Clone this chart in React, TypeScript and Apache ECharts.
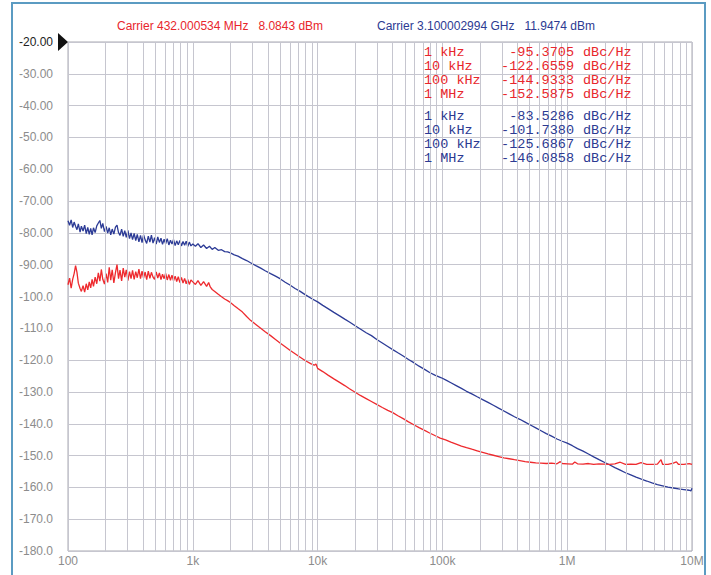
import React, { useEffect, useRef } from "react";
import * as echarts from "echarts";

// ---------- data ----------
const carrierTexts = [
  { text: "Carrier 432.000534 MHz   8.0843 dBm", color: "#e8262c" },
  { text: "Carrier 3.100002994 GHz   11.9474 dBm", color: "#2c3a92" },
];

const redMarkers: [string, string][] = [
  ["1 kHz", "-95.3705"],
  ["10 kHz", "-122.6559"],
  ["100 kHz", "-144.9333"],
  ["1 MHz", "-152.5875"],
];
const blueMarkers: [string, string][] = [
  ["1 kHz", "-83.5286"],
  ["10 kHz", "-101.7380"],
  ["100 kHz", "-125.6867"],
  ["1 MHz", "-146.0858"],
];

const xTickLabels = ["100", "1k", "10k", "100k", "1M", "10M"];

const redTrace: [number, number][] = [
  [100, -96.3], [103, -94.2], [106, -97.4], [109, -94.6], [112, -92.8], [115, -90.3], [118, -92.4], [121, -95.8],
  [125, -97.5], [128, -98.4], [132, -96.6], [136, -98.6], [140, -96.0], [144, -97.9], [148, -95.4], [152, -97.3],
  [156, -94.6], [160, -96.8], [165, -93.9], [170, -96.0], [175, -92.6], [180, -95.2], [185, -91.5], [190, -94.6],
  [196, -96.1], [202, -92.8], [208, -95.6], [214, -90.8], [220, -94.9], [226, -91.6], [233, -95.7], [240, -92.5],
  [247, -90.0], [254, -94.4], [261, -91.7], [269, -95.1], [277, -91.1], [285, -93.9], [293, -91.6], [302, -95.0],
  [311, -92.2], [320, -94.4], [329, -91.8], [339, -94.6], [349, -92.2], [359, -94.1], [370, -91.4], [381, -94.4],
  [392, -92.0], [403, -94.2], [415, -92.3], [427, -94.7], [440, -92.0], [453, -94.3], [466, -92.4], [480, -93.9],
  [494, -94.6], [509, -92.3], [524, -94.2], [540, -92.6], [556, -94.7], [572, -93.0], [589, -94.4], [606, -92.7],
  [624, -94.8], [643, -93.1], [662, -94.9], [681, -93.3], [701, -95.1], [722, -93.6], [743, -95.3], [765, -93.8],
  [788, -95.6], [811, -94.0], [835, -95.8], [860, -94.3], [885, -96.0], [911, -94.6], [938, -96.2], [966, -94.8],
  [1000, -95.4], [1050, -96.2], [1100, -95.0], [1160, -96.5], [1220, -95.3], [1290, -96.8], [1340, -95.6],
  [1380, -97.0], [1430, -97.8], [1500, -98.4], [1600, -99.3], [1700, -100.1], [1800, -100.8], [1900, -101.3],
  [2000, -101.9], [2150, -102.9], [2300, -103.8], [2500, -104.9], [2700, -106.3], [2900, -107.5], [3200, -108.8],
  [3500, -110.0], [3800, -111.1], [4200, -112.3], [4600, -113.5], [5000, -114.6], [5500, -115.8], [6000, -116.9],
  [6600, -118.0], [7200, -119.0], [8000, -120.2], [8800, -121.1], [9400, -121.6], [9700, -121.2], [10000, -122.6],
  [11000, -123.6], [12200, -124.8], [13500, -125.9], [15000, -127.0], [16500, -128.0], [18000, -129.0],
  [20000, -130.1], [22000, -131.1], [24500, -132.1], [27000, -133.0], [30000, -134.0], [33000, -134.9],
  [36500, -135.8], [40000, -136.5], [44000, -137.5], [48500, -138.4], [53500, -139.4], [59000, -140.3],
  [65000, -141.2], [72000, -142.1], [79000, -142.9], [87000, -143.7], [96000, -144.5], [106000, -145.1],
  [117000, -145.8], [129000, -146.4], [142000, -147.0], [156000, -147.5], [172000, -148.0], [190000, -148.5],
  [210000, -149.0], [232000, -149.5], [256000, -149.9], [282000, -150.3], [311000, -150.7], [343000, -151.0],
  [378000, -151.3], [417000, -151.6], [460000, -151.9], [507000, -152.1], [560000, -152.3], [617000, -152.4],
  [680000, -152.5], [750000, -152.4], [828000, -152.6], [880000, -151.9], [913000, -152.5], [1000000, -152.6],
  [1100000, -152.7], [1150000, -152.0], [1210000, -152.6], [1340000, -152.7], [1480000, -152.5],
  [1630000, -152.8], [1800000, -152.6], [1980000, -152.7], [2180000, -152.8], [2410000, -152.6],
  [2660000, -152.1], [2930000, -152.8], [3230000, -152.7], [3560000, -152.8], [3900000, -152.2],
  [4340000, -152.8], [4780000, -152.8], [5280000, -152.7], [5650000, -151.3], [5820000, -152.8],
  [6420000, -152.8], [7080000, -152.4], [7500000, -152.0], [7810000, -152.8], [8610000, -152.8],
  [9500000, -152.5], [10000000, -152.8],
];

const blueTrace: [number, number][] = [
  [100, -76.2], [103, -77.6], [106, -75.9], [109, -78.3], [112, -76.6], [115, -77.9], [118, -79.0], [121, -77.2],
  [125, -79.8], [128, -77.9], [132, -79.4], [136, -77.6], [140, -80.2], [144, -78.3], [148, -80.5], [152, -78.6],
  [156, -80.6], [160, -78.4], [165, -79.9], [170, -77.8], [175, -76.9], [180, -76.1], [185, -78.6], [190, -77.0],
  [196, -79.6], [202, -78.0], [208, -80.1], [214, -78.4], [220, -80.6], [226, -78.8], [233, -80.4], [240, -78.2],
  [247, -77.6], [254, -79.9], [261, -80.8], [269, -78.8], [277, -81.1], [285, -79.3], [293, -81.4], [302, -79.2],
  [311, -81.8], [320, -80.0], [329, -82.1], [339, -80.2], [349, -82.4], [359, -80.5], [370, -82.8], [381, -80.8],
  [392, -83.1], [403, -80.6], [415, -82.2], [427, -83.3], [440, -81.0], [453, -82.9], [466, -80.7], [480, -83.2],
  [494, -81.5], [509, -83.5], [524, -81.3], [540, -83.0], [556, -81.7], [572, -83.6], [589, -82.0], [606, -83.4],
  [624, -81.8], [643, -83.8], [662, -82.3], [681, -83.5], [701, -82.1], [722, -84.0], [743, -82.5], [765, -83.7],
  [788, -82.4], [811, -84.1], [835, -82.7], [860, -83.9], [885, -82.6], [911, -84.3], [938, -82.9], [966, -84.1],
  [1000, -83.5], [1050, -84.2], [1100, -83.4], [1160, -84.6], [1220, -83.8], [1290, -84.9], [1360, -84.2],
  [1430, -85.2], [1500, -84.6], [1600, -85.5], [1700, -85.3], [1800, -85.9], [1900, -86.0], [2000, -86.3],
  [2150, -86.9], [2300, -87.3], [2500, -88.1], [2700, -88.7], [2900, -89.4], [3200, -90.3], [3500, -91.1],
  [3800, -91.9], [4200, -92.8], [4600, -93.6], [5000, -94.4], [5500, -95.5], [6000, -96.4], [6600, -97.5],
  [7200, -98.3], [8000, -99.5], [9000, -100.7], [10000, -101.7], [11000, -102.8], [12200, -103.9],
  [13500, -105.0], [15000, -106.1], [16500, -107.1], [18000, -108.0], [20000, -109.2], [22000, -110.2],
  [24500, -111.4], [27000, -112.3], [30000, -113.6], [33000, -114.6], [36500, -115.7], [40000, -116.7],
  [44000, -117.7], [48500, -118.7], [53500, -119.8], [59000, -120.8], [65000, -121.9], [72000, -122.9],
  [79000, -123.9], [87000, -124.7], [96000, -125.4], [100000, -125.7], [106000, -126.2], [117000, -127.1],
  [129000, -128.0], [142000, -128.9], [156000, -129.8], [172000, -130.6], [190000, -131.5], [210000, -132.4],
  [232000, -133.3], [256000, -134.2], [282000, -135.1], [311000, -136.0], [343000, -136.9], [378000, -137.8],
  [417000, -138.6], [460000, -139.5], [507000, -140.4], [560000, -141.3], [617000, -142.2], [680000, -143.1],
  [750000, -143.9], [828000, -144.8], [913000, -145.5], [1000000, -146.1], [1100000, -146.9], [1210000, -147.8],
  [1340000, -148.6], [1480000, -149.5], [1630000, -150.4], [1800000, -151.3], [1980000, -152.1],
  [2180000, -152.9], [2410000, -153.8], [2660000, -154.6], [2930000, -155.4], [3230000, -156.1],
  [3560000, -156.8], [3930000, -157.4], [4340000, -158.0], [4780000, -158.6], [5280000, -159.1],
  [5820000, -159.5], [6420000, -159.9], [7080000, -160.2], [7810000, -160.5], [8610000, -160.7],
  [9500000, -160.9], [9800000, -161.1], [10000000, -160.3],
];

// ---------- styling constants ----------
const RED_LINE = "#ee2a2e";
const BLUE_LINE = "#2c3b96";
const GRID_COLOR = "#c6c6cf";
const G_LEFT = 68;
const G_TOP = 42;
const G_RIGHT = 19;
const G_BOTTOM = 24;

export default function App() {
  const ref = useRef<HTMLDivElement>(null);

  useEffect(() => {
    if (!ref.current) return;
    const chart = echarts.init(ref.current, undefined, { renderer: "svg" });

    const minorLines: { xAxis: number }[] = [];
    for (let d = 100; d < 1e7; d *= 10) {
      for (let k = 2; k <= 9; k++) minorLines.push({ xAxis: d * k });
    }

    const mono = '"Liberation Mono", "DejaVu Sans Mono", monospace';
    const graphics: any[] = [
      {
        type: "rect",
        shape: { x: 12, y: 3, width: 693, height: 640 },
        style: { fill: "none", stroke: "#5b9bc2", lineWidth: 2 },
        z: 0,
        silent: true,
      },
      {
        type: "polygon",
        shape: { points: [[G_LEFT - 10, G_TOP - 9], [G_LEFT, G_TOP], [G_LEFT - 10, G_TOP + 9]] },
        style: { fill: "#111" },
        z: 10,
      },
    ];
    const headerX = [117, 377];
    carrierTexts.forEach((c, i) => {
      graphics.push({
        type: "text",
        x: headerX[i],
        y: 26,
        style: {
          text: c.text,
          fill: c.color,
          fontSize: 12,
          fontFamily: '"Liberation Sans", Arial, sans-serif',
          textVerticalAlign: "middle",
          verticalAlign: "middle",
        },
        z: 10,
      });
    });
    const addTable = (rows: [string, string][], y0: number, color: string) => {
      rows.forEach((r, i) => {
        const y = y0 + i * 14.3;
        const base = { fill: color, fontSize: 13.5, fontFamily: mono, textVerticalAlign: "middle", verticalAlign: "middle" };
        graphics.push({ type: "text", x: 424, y, style: { ...base, text: r[0] }, z: 10 });
        graphics.push({
          type: "text", x: 574, y,
          style: { ...base, text: r[1], textAlign: "right", align: "right" }, z: 10,
        });
        graphics.push({ type: "text", x: 583, y, style: { ...base, text: "dBc/Hz" }, z: 10 });
      });
    };
    addTable(redMarkers, 52, "#e8262c");
    addTable(blueMarkers, 116, "#2c3a92");

    chart.setOption({
      animation: false,
      backgroundColor: "#ffffff",
      grid: {
        left: G_LEFT, top: G_TOP, right: G_RIGHT, bottom: G_BOTTOM,
        show: true, borderColor: "#a9a9b1", borderWidth: 1, backgroundColor: "transparent",
      },
      xAxis: {
        type: "log",
        logBase: 10,
        min: 100,
        max: 1e7,
        axisLine: { show: false },
        axisTick: { show: false },
        splitLine: { show: true, lineStyle: { color: GRID_COLOR, width: 1 } },
        axisLabel: {
          margin: 4,
          color: "#8c8c8c",
          fontSize: 12,
          fontFamily: '"Liberation Sans", Arial, sans-serif',
          formatter: (v: number) => xTickLabels[Math.round(Math.log10(v)) - 2] ?? "",
        },
      },
      yAxis: {
        type: "value",
        min: -180,
        max: -20,
        interval: 10,
        axisLine: { show: false },
        axisTick: { show: false },
        splitLine: { show: true, lineStyle: { color: GRID_COLOR, width: 1 } },
        axisLabel: {
          margin: 15,
          fontSize: 12,
          fontFamily: '"Liberation Sans", Arial, sans-serif',
          color: (v: any) => (Number(v) === -20 ? "#222222" : "#8c8c8c"),
          formatter: (v: number) => (v > -100 ? v.toFixed(2) : v.toFixed(1)),
        },
      },
      graphic: graphics,
      series: [
        {
          type: "line",
          data: [],
          z: 1,
          silent: true,
          markLine: {
            silent: true,
            symbol: "none",
            label: { show: false },
            lineStyle: { color: GRID_COLOR, width: 1, type: "solid" },
            data: minorLines,
          },
        },
        {
          name: "3.1 GHz",
          type: "line",
          data: blueTrace,
          showSymbol: false,
          z: 3,
          lineStyle: { color: BLUE_LINE, width: 1.3 },
          itemStyle: { color: BLUE_LINE },
        },
        {
          name: "432 MHz",
          type: "line",
          data: redTrace,
          showSymbol: false,
          z: 4,
          lineStyle: { color: RED_LINE, width: 1.3 },
          itemStyle: { color: RED_LINE },
        },
      ],
    });

    return () => chart.dispose();
  }, []);

  return (
    <div
      ref={ref}
      style={{ position: "fixed", left: 0, top: 0, width: 711, height: 575, background: "#fff" }}
    />
  );
}
